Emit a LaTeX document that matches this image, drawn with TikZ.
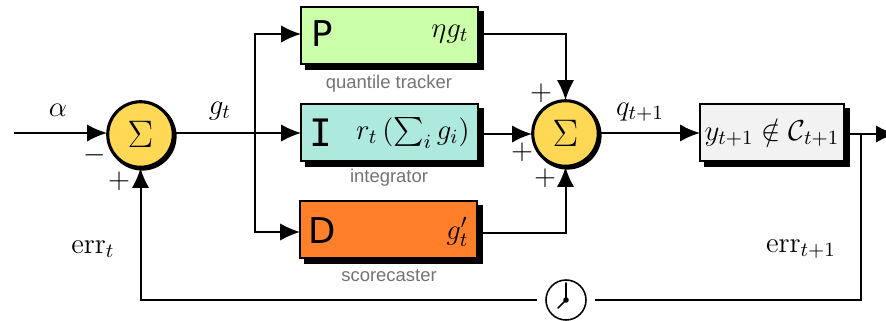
\documentclass[tikz,border=0pt,12pt]{standalone}
\usepackage{fix-cm}
\usepackage{fontspec}
\newfontfamily\lblfont{Liberation Sans}
\newfontfamily\letterfont{DejaVu Sans}
\newfontfamily\monoletter{DejaVu Sans Mono}
\usepackage{amssymb}
\usetikzlibrary{arrows.meta,shadows,calc}
\definecolor{pgreen}{HTML}{CCFFAA}
\definecolor{iteal}{HTML}{AEE9DE}
\definecolor{dorange}{HTML}{FF7F2A}
\definecolor{boxgray}{HTML}{F2F2F2}
\definecolor{sumyellow}{HTML}{FFD955}
\tikzset{
  wire/.style={line width=0.9pt,-{Latex[length=9pt,width=7.8pt]}},
  plainwire/.style={line width=0.9pt},
  blockbox/.style={draw=black,line width=0.8pt,minimum width=79.5pt,minimum height=25.6pt,inner sep=0pt,outer sep=0pt,
    copy shadow={fill=black,draw=black,opacity=1,shadow xshift=2.2pt,shadow yshift=-2.2pt}},
  sumnode/.style={circle,draw=black,fill=sumyellow,line width=1.4pt,minimum size=29.5pt,inner sep=0pt,outer sep=0.3pt,
    copy shadow={fill=black,draw=black,opacity=1,shadow xshift=0.8pt,shadow yshift=-0.8pt}},
  letter/.style={font=\letterfont\fontsize{16}{20}\selectfont},
  monoltr/.style={font=\monoletter\fontsize{17}{20}\selectfont},
  caption/.style={font=\lblfont\fontsize{8.3}{10}\selectfont,text=black!55},
  mathtext/.style={font=\fontsize{13}{15}\selectfont},
  sym/.style={inner sep=0pt,mathtext},
  rightlbl/.style={anchor=east,inner sep=0pt,mathtext},
  clocknode/.style={circle,draw=black,line width=0.7pt,fill=white,minimum size=18pt,inner sep=0pt,outer sep=4pt}
}
\begin{document}
\begin{tikzpicture}[x=0.45pt,y=-0.45pt]
\useasboundingbox (0,0) rectangle (886,321);
% blocks
\node[blockbox,fill=pgreen] (P) at (389.5,35.5) {};
\node[blockbox,fill=iteal] (I) at (389.5,132.5) {};
\node[blockbox,fill=dorange] (D) at (388.5,229.5) {};
\node[blockbox,fill=boxgray,minimum width=64.8pt,mathtext] (Y) at (772,132.5) {$y_{t+1}\notin\mathcal{C}_{t+1}$};
\node[sumnode] (S1) at (140.5,134.5) {\Large$\Sigma$};
\node[sumnode] (S2) at (565.5,133.5) {\Large$\Sigma$};
% block texts
\node[letter] (Pl) at (322,34) {P};
\node[monoltr] (Il) at (321,133) {I};
\node[letter] (Dl) at (322,231) {D};
\node[rightlbl] (Pt) at (469,34) {$\eta g_t$};
\node[rightlbl] (It) at (470,133) {$r_t\left(\sum_i g_i\right)$};
\node[rightlbl] (Dt) at (469,232) {$g'_t$};
% captions
\node[caption] (c1) at (389,84) {quantile tracker};
\node[caption] (c2) at (389,178) {integrator};
\node[caption] (c3) at (389,276) {scorecaster};
% labels
\node[sym] (alpha) at (58,110) {$\alpha$};
\node[sym] (gt) at (220,111) {$g_t$};
\node[sym] (qt) at (640,112) {$q_{t+1}$};
\node[sym] (m1) at (95,155) {$-$};
\node[sym] (p1) at (119,181) {$+$};
\node[sym] (p2) at (541,93) {$+$};
\node[sym] (p3) at (522,152) {$+$};
\node[sym] (p4) at (545,178) {$+$};
\node[sym] (e1) at (93,249) {$\mathrm{err}_t$};
\node[sym] (e2) at (801,249) {$\mathrm{err}_{t+1}$};
% clock
\node[clocknode] (clk) at (566,300) {};
\fill (clk.center) circle (2.8);
\draw[line width=0.7pt,line cap=round] (566,283) -- (clk.center) -- (558,308);
% coordinates
\coordinate (in) at (14,133);
\coordinate (br) at (255,133);
\coordinate (brP) at (255,34);
\coordinate (brD) at (255,232);
\coordinate (out) at (896,134);
\coordinate (obr) at (861,134);
\coordinate (oc) at (861,300);
\coordinate (fc) at (140.5,300);
\coordinate (Pc) at (565.5,34);
\coordinate (Dc) at (565.5,233);
\coordinate (Pout) at (483,34);
\coordinate (Iout) at (483,134);
\coordinate (Dout) at (482,233);
\coordinate (Yout) at (849,134);
% connectors
\draw[wire] (in) -- (in -| S1.west);
\draw[wire] (S1.east |- br) -- (I.west |- br);
\draw[wire] (br) -- (brP) -- (P.west |- brP);
\draw[wire] (br) -- (brD) -- (D.west |- brD);
\draw[wire] (Pout) -- (Pc) -- (S2.north);
\draw[wire] (Iout) -- (S2.west |- Iout);
\draw[wire] (Dout) -- (Dc) -- (S2.south);
\draw[wire] (S2.east |- br) -- (Y.west |- br);
\draw[wire] (Yout) -- (out);
\draw[plainwire] (obr) -- (oc) -- (clk);
\draw[wire] (clk) -- (fc) -- (S1.south);
\end{tikzpicture}
\end{document}
